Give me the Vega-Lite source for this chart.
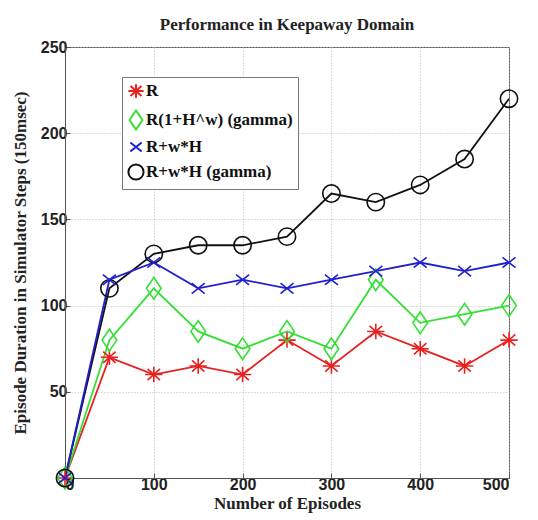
{
  "$schema": "https://vega.github.io/schema/vega-lite/v6.json",
  "width": 444,
  "height": 431,
  "autosize": "none",
  "padding": {"left": 65, "top": 47, "right": 29, "bottom": 42},
  "background": "white",
  "title": {
    "text": "Performance in Keepaway Domain",
    "font": "Liberation Serif",
    "fontSize": 17,
    "fontWeight": "bold",
    "color": "#222",
    "anchor": "middle",
    "offset": 5
  },
  "config": {
    "view": {"stroke": "#555", "strokeWidth": 1},
    "axis": {
      "labelFont": "Liberation Sans",
      "labelFontWeight": "bold",
      "labelFontSize": 16,
      "labelColor": "#222",
      "titleFont": "Liberation Serif",
      "titleFontWeight": "bold",
      "titleFontSize": 17,
      "titleColor": "#222",
      "domainColor": "#555",
      "tickColor": "#555",
      "tickSize": -5,
      "gridColor": "#bbb",
      "gridDash": [1, 2],
      "gridWidth": 1
    }
  },
  "data": {
    "values": [
      {"episodes": 0, "steps": 0, "series": "R"},
      {"episodes": 50, "steps": 70, "series": "R"},
      {"episodes": 100, "steps": 60, "series": "R"},
      {"episodes": 150, "steps": 65, "series": "R"},
      {"episodes": 200, "steps": 60, "series": "R"},
      {"episodes": 250, "steps": 80, "series": "R"},
      {"episodes": 300, "steps": 65, "series": "R"},
      {"episodes": 350, "steps": 85, "series": "R"},
      {"episodes": 400, "steps": 75, "series": "R"},
      {"episodes": 450, "steps": 65, "series": "R"},
      {"episodes": 500, "steps": 80, "series": "R"},
      {"episodes": 0, "steps": 0, "series": "R(1+H^w) (gamma)"},
      {"episodes": 50, "steps": 80, "series": "R(1+H^w) (gamma)"},
      {"episodes": 100, "steps": 110, "series": "R(1+H^w) (gamma)"},
      {"episodes": 150, "steps": 85, "series": "R(1+H^w) (gamma)"},
      {"episodes": 200, "steps": 75, "series": "R(1+H^w) (gamma)"},
      {"episodes": 250, "steps": 85, "series": "R(1+H^w) (gamma)"},
      {"episodes": 300, "steps": 75, "series": "R(1+H^w) (gamma)"},
      {"episodes": 350, "steps": 115, "series": "R(1+H^w) (gamma)"},
      {"episodes": 400, "steps": 90, "series": "R(1+H^w) (gamma)"},
      {"episodes": 450, "steps": 95, "series": "R(1+H^w) (gamma)"},
      {"episodes": 500, "steps": 100, "series": "R(1+H^w) (gamma)"},
      {"episodes": 0, "steps": 0, "series": "R+w*H (gamma)"},
      {"episodes": 50, "steps": 110, "series": "R+w*H (gamma)"},
      {"episodes": 100, "steps": 130, "series": "R+w*H (gamma)"},
      {"episodes": 150, "steps": 135, "series": "R+w*H (gamma)"},
      {"episodes": 200, "steps": 135, "series": "R+w*H (gamma)"},
      {"episodes": 250, "steps": 140, "series": "R+w*H (gamma)"},
      {"episodes": 300, "steps": 165, "series": "R+w*H (gamma)"},
      {"episodes": 350, "steps": 160, "series": "R+w*H (gamma)"},
      {"episodes": 400, "steps": 170, "series": "R+w*H (gamma)"},
      {"episodes": 450, "steps": 185, "series": "R+w*H (gamma)"},
      {"episodes": 500, "steps": 220, "series": "R+w*H (gamma)"},
      {"episodes": 0, "steps": 0, "series": "R+w*H"},
      {"episodes": 50, "steps": 115, "series": "R+w*H"},
      {"episodes": 100, "steps": 125, "series": "R+w*H"},
      {"episodes": 150, "steps": 110, "series": "R+w*H"},
      {"episodes": 200, "steps": 115, "series": "R+w*H"},
      {"episodes": 250, "steps": 110, "series": "R+w*H"},
      {"episodes": 300, "steps": 115, "series": "R+w*H"},
      {"episodes": 350, "steps": 120, "series": "R+w*H"},
      {"episodes": 400, "steps": 125, "series": "R+w*H"},
      {"episodes": 450, "steps": 120, "series": "R+w*H"},
      {"episodes": 500, "steps": 125, "series": "R+w*H"}
    ]
  },
  "encoding": {
    "x": {
      "field": "episodes",
      "type": "quantitative",
      "scale": {"domain": [0, 500], "nice": false},
      "axis": {"values": [0, 100, 200, 300, 400, 500], "title": "Number of Episodes", "titlePadding": 3, "labelPadding": 3}
    },
    "y": {
      "field": "steps",
      "type": "quantitative",
      "scale": {"domain": [0, 250], "nice": false},
      "axis": {"values": [0, 50, 100, 150, 200, 250], "labelExpr": "datum.value == 0 ? '' : datum.label", "title": "Episode Duration in Simulator Steps (150msec)", "titlePadding": 11, "labelPadding": 3}
    },
    "color": {
      "field": "series",
      "type": "nominal",
      "scale": {
        "domain": ["R", "R(1+H^w) (gamma)", "R+w*H", "R+w*H (gamma)"],
        "range": ["#e82020", "#33e033", "#2020cc", "#111111"]
      },
      "legend": {
        "title": null,
        "orient": "none",
        "legendX": 57,
        "legendY": 30,
        "strokeColor": "#777",
        "fillColor": "white",
        "padding": 5,
        "labelFont": "Liberation Serif",
        "labelFontWeight": "bold",
        "labelFontSize": 17,
        "labelColor": "#111",
        "symbolSize": 230,
        "symbolStrokeWidth": 2,
        "rowPadding": 4,
        "labelOffset": 1
      }
    }
  },
  "layer": [
    {
      "mark": {"type": "line", "strokeWidth": 1.8},
      "encoding": {
        "order": {"field": "episodes", "type": "quantitative"}
      }
    },
    {
      "mark": {"type": "point", "filled": false, "strokeWidth": 1.6, "size": 300, "opacity": 1},
      "encoding": {
        "shape": {
          "field": "series",
          "type": "nominal",
          "scale": {
            "domain": ["R", "R(1+H^w) (gamma)", "R+w*H", "R+w*H (gamma)"],
            "range": [
              "M-1,0L1,0M0,-0.9L0,0.9M-0.72,-0.65L0.72,0.65M-0.72,0.65L0.72,-0.65",
              "M0,-1.25L0.85,0L0,1.25L-0.85,0Z",
              "M-0.75,-0.6L0.75,0.6M-0.75,0.6L0.75,-0.6",
              "circle"
            ]
          }
        }
      }
    }
  ]
}
